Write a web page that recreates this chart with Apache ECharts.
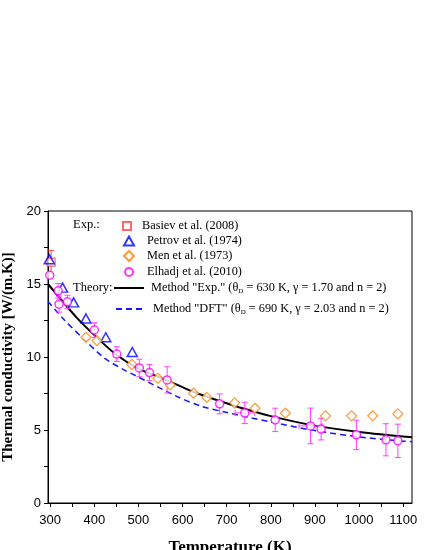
<!DOCTYPE html>
<html>
<head>
<meta charset="UTF-8">
<title>Thermal conductivity</title>
<style>
  html, body { margin: 0; padding: 0; background: #fff; }
  #chart { width: 425px; height: 550px; }
</style>
</head>
<body>
<div id="chart"></div>
<script src="https://cdn.jsdelivr.net/npm/echarts@6/dist/echarts.min.js"></script>
<script>
// experimental points
var basievT = [302];
var basievK = [16.5];
var basievErr = [0.8];

var petrovT = [298, 328, 353, 381, 426, 486];
var petrovK = [16.7, 14.75, 13.74, 12.64, 11.35, 10.34];

var menT = [381, 406, 485, 544, 572, 625, 655, 718, 764, 833, 924, 983, 1031, 1088];
var menK = [11.35, 11.12, 9.5, 8.54, 8.09, 7.52, 7.23, 6.86, 6.49, 6.15, 5.97, 5.97, 5.97, 6.1];

var elhadjT = [299, 318, 320, 339, 400, 451, 502, 525, 565, 684, 741, 810, 890, 914, 994, 1061, 1088];
var elhadjK = [15.6, 14.53, 13.62, 13.78, 11.85, 10.2, 9.25, 8.93, 8.43, 6.79, 6.17, 5.69, 5.28, 5.06, 4.67, 4.33, 4.26];
var elhadjErr = [0, 0.5, 0.55, 0.45, 0.5, 0.5, 0.6, 0.55, 0.9, 0.68, 0.73, 0.8, 1.22, 0.74, 1.0, 1.1, 1.14];
var elhadjXErr = [0, 0, 0, 0, 0, 0, 0, 0, 0, 0, 22, 0, 26, 0, 0, 0, 0];

// theory curves
var expT = [295, 320, 360, 400, 450, 500, 565, 625, 686, 740, 800, 890, 1000, 1120];
var expK = [15.0, 14.1, 12.7, 11.5, 10.15, 9.2, 8.4, 7.6, 6.97, 6.45, 5.95, 5.35, 4.87, 4.5];

var dftT = [295, 330, 377, 422, 468, 495, 587, 640, 693, 800, 890, 994, 1088, 1120];
var dftK = [13.8, 12.6, 11.2, 9.95, 9.1, 8.7, 7.3, 6.65, 6.25, 5.55, 5.01, 4.55, 4.26, 4.2];

var xTicks = [300, 350, 400, 450, 500, 550, 600, 650, 700, 750, 800, 850, 900, 950, 1000, 1050, 1100];
var xLabels = [300, 400, 500, 600, 700, 800, 900, 1000, 1100];
var yTicks = [0, 2.5, 5, 7.5, 10, 12.5, 15, 17.5, 20];
var yLabels = [0, 5, 10, 15, 20];

function zip(a, b) { return a.map(function (v, i) { return [v, b[i]]; }); }

var serif = '"Liberation Serif", "DejaVu Serif", serif';
var sans = '"Liberation Sans", Arial, sans-serif';

var chart = echarts.init(document.getElementById('chart'));

function errBars(color) {
  return function (params, api) {
    var x = api.value(0), y = api.value(1), e = api.value(2), xe = api.value(3);
    var kids = [];
    var st = { stroke: color, lineWidth: 1 };
    if (e > 0) {
      var top = api.coord([x, y + e]), bot = api.coord([x, y - e]);
      kids.push({ type: 'line', shape: { x1: top[0], y1: top[1], x2: bot[0], y2: bot[1] }, style: st });
      kids.push({ type: 'line', shape: { x1: top[0] - 3, y1: top[1], x2: top[0] + 3, y2: top[1] }, style: st });
      kids.push({ type: 'line', shape: { x1: bot[0] - 3, y1: bot[1], x2: bot[0] + 3, y2: bot[1] }, style: st });
    }
    if (xe > 0) {
      var l = api.coord([x - xe, y]), r = api.coord([x + xe, y]);
      kids.push({ type: 'line', shape: { x1: l[0], y1: l[1], x2: r[0], y2: r[1] }, style: st });
      kids.push({ type: 'line', shape: { x1: l[0], y1: l[1] - 3, x2: l[0], y2: l[1] + 3 }, style: st });
      kids.push({ type: 'line', shape: { x1: r[0], y1: r[1] - 3, x2: r[0], y2: r[1] + 3 }, style: st });
    }
    return { type: 'group', children: kids };
  };
}

function rowLegend(name, left, top, w, h, padLeft, isLine) {
  var lg = { data: [name], left: left, top: top, itemWidth: w, itemHeight: h, itemGap: 0,
    padding: 0,
    textStyle: { fontFamily: serif, fontSize: 12.3, color: '#000', padding: [0, 0, 0, padLeft],
      rich: { sub: { fontFamily: serif, fontSize: 7, padding: [7, 0, 0, 0] } } },
    formatter: function (n) {
      if (n === 'Method "Exp."') return 'Method "Exp." (θ{sub|D} = 630 K, γ = 1.70 and n = 2)';
      if (n === 'Method "DFT"') return 'Method "DFT" (θ{sub|D} = 690 K, γ = 2.03 and n = 2)';
      return n;
    } };
  if (isLine) lg.itemStyle = { color: 'rgba(0,0,0,0)', borderWidth: 0, opacity: 0 };
  return lg;
}

chart.setOption({
  animation: false,
  grid: { left: 48, right: 13, top: 211, bottom: 47, show: true, borderColor: '#000', borderWidth: 1,
    outerBoundsMode: 'none', containLabel: false },
  xAxis: {
    type: 'value', min: 295, max: 1120,
    name: 'Temperature (K)', nameLocation: 'middle', nameGap: 36,
    nameTextStyle: { fontFamily: serif, fontWeight: 'bold', fontSize: 17, color: '#000' },
    axisLine: { lineStyle: { color: '#000', width: 1 } },
    axisTick: { show: true, length: 4, lineStyle: { color: '#000' }, customValues: xTicks },
    axisLabel: { fontFamily: sans, fontSize: 13, color: '#000', margin: 11, customValues: xLabels,
      formatter: function (v) { return String(v); } },
    splitLine: { show: false }
  },
  yAxis: {
    type: 'value', min: 0, max: 20,
    name: 'Thermal conductivity [W/(m.K)]', nameLocation: 'middle', nameGap: 27,
    nameTextStyle: { fontFamily: serif, fontWeight: 'bold', fontSize: 15, color: '#000' },
    axisLine: { show: true, lineStyle: { color: '#000', width: 1 } },
    axisTick: { show: true, length: 4, lineStyle: { color: '#000' }, customValues: yTicks },
    axisLabel: { fontFamily: sans, fontSize: 13, color: '#000', margin: 7, customValues: yLabels },
    splitLine: { show: false }
  },
  legend: [
    rowLegend('Basiev et al. (2008)', 122, 220, 8, 8, 6),
    rowLegend('Petrov et al. (1974)', 123, 235, 10, 9, 8),
    rowLegend('Men et al. (1973)', 123, 250, 10, 10, 8),
    rowLegend('Elhadj et al. (2010)', 124, 266, 8, 8, 9),
    rowLegend('Method "Exp."', 113, 282, 30, 10, 2, true),
    rowLegend('Method "DFT"', 115, 303, 30, 10, 2, true)
  ],
  graphic: [
    { type: 'text', left: 73, top: 218, style: { text: 'Exp.:', font: '12.5px ' + serif, fill: '#000' } },
    { type: 'text', left: 73, top: 281, style: { text: 'Theory:', font: '12.5px ' + serif, fill: '#000' } }
  ],
  series: [
    { name: 'Method "Exp."', type: 'line', data: zip(expT, expK), smooth: 0.3, symbol: 'none',
      lineStyle: { color: '#000', width: 2 }, itemStyle: { color: '#000' }, z: 2 },
    { name: 'Method "DFT"', type: 'line', data: zip(dftT, dftK), smooth: 0.3, symbol: 'none',
      lineStyle: { color: '#1515ff', width: 1.5, type: [6, 4] }, itemStyle: { color: '#1515ff' }, z: 2 },
    { type: 'custom', renderItem: errBars('#ff40ff'), encode: { x: 0, y: 1 }, z: 3,
      data: elhadjT.map(function (t, i) { return [t, elhadjK[i], elhadjErr[i], elhadjXErr[i]]; }) },
    { type: 'custom', renderItem: errBars('#ff4040'), encode: { x: 0, y: 1 }, z: 3,
      data: basievT.map(function (t, i) { return [t, basievK[i], basievErr[i], 0]; }) },
    { name: 'Basiev et al. (2008)', type: 'scatter', data: zip(basievT, basievK), symbol: 'rect', symbolSize: 8,
      itemStyle: { color: '#fff', borderColor: '#ff4040', borderWidth: 1.2 }, z: 4 },
    { name: 'Petrov et al. (1974)', type: 'scatter', data: zip(petrovT, petrovK), symbol: 'triangle', symbolSize: [10, 9],
      itemStyle: { color: 'rgba(255,255,255,0)', borderColor: '#0000ff', borderWidth: 1.5 }, z: 4 },
    { name: 'Men et al. (1973)', type: 'scatter', data: zip(menT, menK), symbol: 'diamond', symbolSize: 10,
      itemStyle: { color: '#fff', borderColor: '#ff8000', borderWidth: 1.2 }, z: 4 },
    { name: 'Elhadj et al. (2010)', type: 'scatter', data: zip(elhadjT, elhadjK), symbol: 'circle', symbolSize: 8,
      itemStyle: { color: '#fff', borderColor: '#ff00ff', borderWidth: 1.5 }, z: 5 }
  ]
});
</script>
</body>
</html>
